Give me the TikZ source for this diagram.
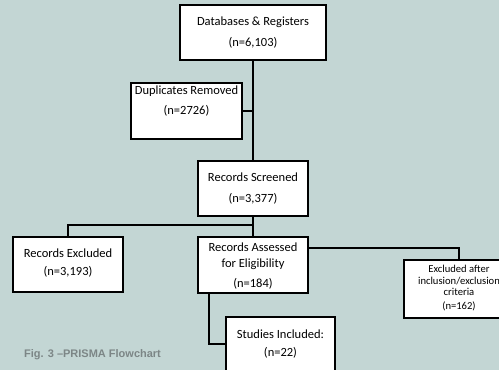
\documentclass[tikz,border=0pt]{standalone}
\usepackage{fontspec}
\setmainfont{Carlito}
\newfontfamily\capfont{Liberation Sans}
\definecolor{bgteal}{HTML}{C3D6D4}
\definecolor{capgray}{HTML}{7C8686}
\begin{document}
\begin{tikzpicture}[x=1pt,y=-1pt,
  box/.style={draw=black,fill=white,line width=2pt,inner sep=0pt},
  ln/.style={inner sep=0pt,text height=9pt,text depth=2pt,font=\fontsize{12.5}{14}\selectfont},
  sm/.style={inner sep=0pt,text height=7.5pt,text depth=2pt,font=\fontsize{10.6}{12}\selectfont},
  link/.style={draw=black,line width=2pt}]
  \useasboundingbox (0,0) rectangle (499,370);
  \fill[bgteal] (0,0) rectangle (499,370);
  \clip (0,0) rectangle (499,370);

  % boxes
  \node[box,minimum width=146pt,minimum height=55pt] (db) at (253,32.5) {};
  \node[box,minimum width=111pt,minimum height=56pt] (dup) at (186.5,111) {};
  \node[box,minimum width=110pt,minimum height=55pt] (scr) at (253,188.5) {};
  \node[box,minimum width=110pt,minimum height=55pt] (exc) at (68,264.5) {};
  \node[box,minimum width=110pt,minimum height=56pt] (ass) at (253,265) {};
  \node[box,minimum width=116pt,minimum height=58pt] (ex2) at (462,289) {};
  \node[box,minimum width=109pt,minimum height=73pt] (stu) at (280.5,353.5) {};

  % connectors
  \draw[link] (db.south) -- (scr.north);
  \draw[link] (dup.east) -- (dup.east -| db.south);
  \draw[link] (scr.south) -- (ass.north);
  \draw[link] (scr.south |- 0,225) -| (exc.north);
  \draw[link] (ass.east |- 0,248) -| (ex2.north -| 459,0);
  \draw[link] (ass.south -| 209,0) |- (stu.west |- 0,344);

  % labels
  \node[ln] (dbA) at (253,22) {Databases \& Registers};
  \node[ln] (dbB) at (253,43) {(n=6,103)};
  \node[ln] (dupA) at (186.5,91) {Duplicates Removed};
  \node[ln] (dupB) at (186.5,111) {(n=2726)};
  \node[ln] (scrA) at (253,178) {Records Screened};
  \node[ln] (scrB) at (253,199) {(n=3,377)};
  \node[ln] (excA) at (68,254) {Records Excluded};
  \node[ln] (excB) at (68,272) {(n=3,193)};
  \node[ln] (assA) at (253,248) {Records Assessed};
  \node[ln] (assB) at (253,264) {for Eligibility};
  \node[ln] (assC) at (253,284) {(n=184)};
  \node[sm] (exA) at (459,270) {Excluded after};
  \node[sm] (exB) at (459,282) {inclusion/exclusion};
  \node[sm] (exC) at (459,293) {criteria};
  \node[sm] (exD) at (459,307) {(n=162)};
  \node[ln] (stuA) at (280.5,335) {Studies Included:};
  \node[ln] (stuB) at (280.5,353) {(n=22)};

  % caption
  \node[anchor=west,inner sep=0pt,text=capgray,font=\capfont\bfseries\fontsize{11}{13}\selectfont] (cap) at (24,355) {Fig. 3 –PRISMA Flowchart};
\end{tikzpicture}
\end{document}
